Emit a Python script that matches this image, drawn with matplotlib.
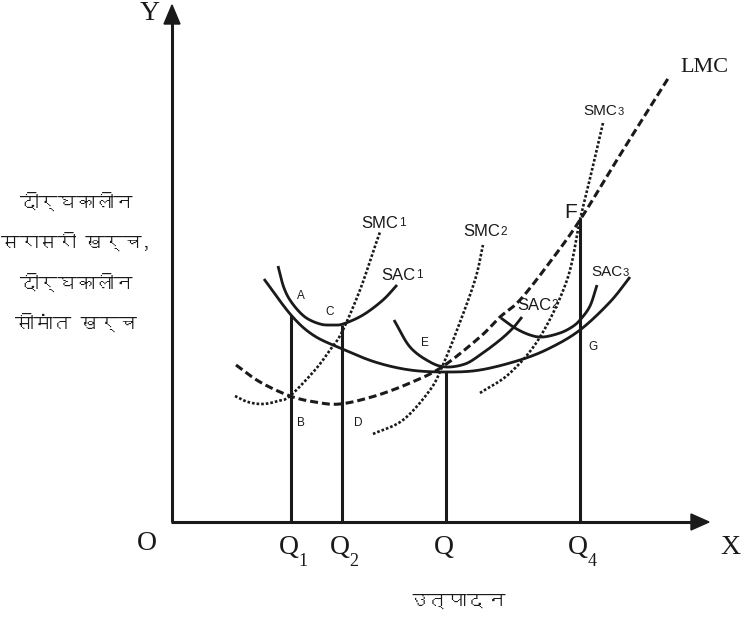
import numpy as np
import matplotlib
matplotlib.use("Agg")
import matplotlib.pyplot as plt
from matplotlib import font_manager
from matplotlib.patches import Polygon

# ---------------- data (diagram coordinates) ----------------
q_labels = ["Q", "Q", "Q", "Q"]
q_subs = ["1", "2", "", "4"]
q_x = [291, 342, 446, 580]
q_top = [315, 325, 372, 218]

lac_x = [264, 291, 313, 340, 375, 410, 446, 480, 520, 550, 580, 610, 630]
lac_y = [279, 315, 335, 348, 362, 370, 372, 370, 360, 348, 330, 302, 277]

sac1_x = [278, 284, 292, 305, 320, 332, 343, 363, 383, 397]
sac1_y = [266, 288, 303, 317, 324, 325, 324, 315, 300, 285]

sac2_x = [394, 410, 430, 446, 465, 480, 500, 513, 522]
sac2_y = [320, 347, 362, 367, 364, 355, 340, 328, 317]

sac3_x = [501, 515, 530, 543, 560, 572, 580, 590, 597]
sac3_y = [318, 328, 335, 337, 333, 327, 320, 306, 285]

lmc_x = [236, 260, 290, 315, 340, 375, 410, 442, 480, 500, 520, 550, 580, 620, 669]
lmc_y = [365, 382, 396, 402, 404, 396, 383, 367, 337, 317, 300, 262, 220, 155, 77]

smc1_x = [235, 248, 263, 278, 290, 315, 330, 342, 360, 373, 380]
smc1_y = [396, 402, 404, 401, 396, 370, 350, 332, 290, 252, 232]

smc2_x = [373, 403, 430, 442, 457, 475, 483]
smc2_y = [434, 420, 390, 367, 330, 280, 245]

smc3_x = [480, 510, 540, 567, 580, 592, 603]
smc3_y = [393, 373, 337, 280, 220, 170, 123]

point_labels = ["A", "C", "E", "B", "D", "G"]
point_x = [301, 330, 425, 301, 358, 593]
point_y = [296, 312, 343, 423, 423, 347]

y_label_lines = ["दीर्घकालीन", "सरासरी खर्च,", "दीर्घकालीन", "सीमांत खर्च"]
x_label = "उत्पादन"


# ---------------- helpers ----------------
def smooth(xs, ys, n=20):
    """Catmull-Rom curve through the read points."""
    P = np.column_stack([xs, ys]).astype(float)
    P = np.vstack([2 * P[0] - P[1], P, 2 * P[-1] - P[-2]])
    out = []
    t = np.linspace(0, 1, n, endpoint=False)[:, None]
    for i in range(1, len(P) - 2):
        p0, p1, p2, p3 = P[i - 1], P[i], P[i + 1], P[i + 2]
        seg = 0.5 * ((2 * p1) + (-p0 + p2) * t + (2 * p0 - 5 * p1 + 4 * p2 - p3) * t ** 2
                     + (-p0 + 3 * p1 - 3 * p2 + p3) * t ** 3)
        out.append(seg)
    out.append(P[-2][None, :])
    out = np.vstack(out)
    return out[:, 0], out[:, 1]


def find_font(ch):
    try:
        from fontTools.ttLib import TTFont
    except Exception:
        return None
    for f in font_manager.fontManager.ttflist:
        try:
            tt = TTFont(f.fname, fontNumber=0, lazy=True)
            cmap = tt.getBestCmap()
            if cmap and ord(ch) in cmap:
                return f.name
        except Exception:
            pass
    return None


deva = find_font("\u0926")
deva_family = [deva, "DejaVu Sans"] if deva else ["DejaVu Sans"]

serif = "Liberation Serif"
sans = "Liberation Sans"

# ---------------- figure ----------------
fig = plt.figure(figsize=(7.42, 6.2), dpi=100)
ax = fig.add_axes([0, 0, 1, 1])
ax.set_xlim(0, 742)
ax.set_ylim(620, 0)
ax.axis("off")

k = "#1a1a1a"

# axes
ax.plot([172, 172], [522, 22], color=k, lw=2.2, solid_capstyle="butt")
ax.plot([171, 694], [522, 522], color=k, lw=2.2, solid_capstyle="butt")
ax.add_patch(Polygon([[172, 5], [164, 24], [180, 24]], closed=True, color=k))
ax.add_patch(Polygon([[709, 522], [691, 514], [691, 530]], closed=True, color=k))

# vertical Q lines
for x, top in zip(q_x, q_top):
    ax.plot([x, x], [522, top], color=k, lw=2.2, solid_capstyle="butt")

# solid cost curves
for xs, ys in [(lac_x, lac_y), (sac1_x, sac1_y), (sac2_x, sac2_y), (sac3_x, sac3_y)]:
    sx, sy = smooth(xs, ys)
    ax.plot(sx, sy, color=k, lw=2.0, solid_capstyle="butt")

# LMC dashed
sx, sy = smooth(lmc_x, lmc_y)
ax.plot(sx, sy, color=k, lw=2.2, dashes=(2.6, 1.3), dash_capstyle="butt")

# SMC dotted
for xs, ys in [(smc1_x, smc1_y), (smc2_x, smc2_y), (smc3_x, smc3_y)]:
    sx, sy = smooth(xs, ys)
    ax.plot(sx, sy, color=k, lw=1.9, dashes=(1.0, 0.75), dash_capstyle="butt")

# axis letters
ax.text(147, 543, "O", family=serif, fontsize=20, ha="center", va="center", color=k)
ax.text(150, 14, "Y", family=serif, fontsize=20, ha="center", va="center", color=k)
ax.text(730, 547, "X", family=serif, fontsize=20, ha="center", va="center", color=k)
for lab, sub, x in zip(q_labels, q_subs, q_x):
    ax.text(x - 2, 548, lab, family=serif, fontsize=20, ha="center", va="center", color=k)
    if sub:
        ax.text(x + 12, 562, sub, family=serif, fontsize=13, ha="center", va="center", color=k)

# curve labels
def lab(x, y, main, sub="", size=12, subsize=8.5):
    t = ax.text(x, y, main, family=sans, fontsize=size, ha="left", va="center", color=k)
    if sub:
        ax.annotate(sub, xy=(1, 0), xycoords=t, xytext=(0.5, 1), textcoords="offset points",
                    family=sans, fontsize=subsize, ha="left", va="bottom", color=k)

lab(361, 223, "SMC", "1")
lab(381, 275, "SAC", "1")
lab(463, 232, "SMC", "2")
lab(517, 305, "SAC", "2")
lab(583, 111, "SMC", "3", size=11, subsize=8)
lab(591, 272, "SAC", "3", size=11, subsize=8)
ax.text(680, 67, "LMC", family=serif, fontsize=16, ha="left", va="center", color=k)
ax.text(571, 212, "F", family=sans, fontsize=15, ha="center", va="center", color=k)

for s, x, y in zip(point_labels, point_x, point_y):
    ax.text(x, y, s, family=sans, fontsize=8.5, ha="center", va="center", color=k)

# Hindi labels
for i, line in enumerate(y_label_lines):
    ax.text(76, 201 + 40.5 * i, line, family=deva_family, fontsize=13.5, ha="center", va="center", color=k)
ax.text(457, 601, x_label, family=deva_family, fontsize=14, ha="center", va="center", color=k)

fig.savefig("out.png", dpi=100)
